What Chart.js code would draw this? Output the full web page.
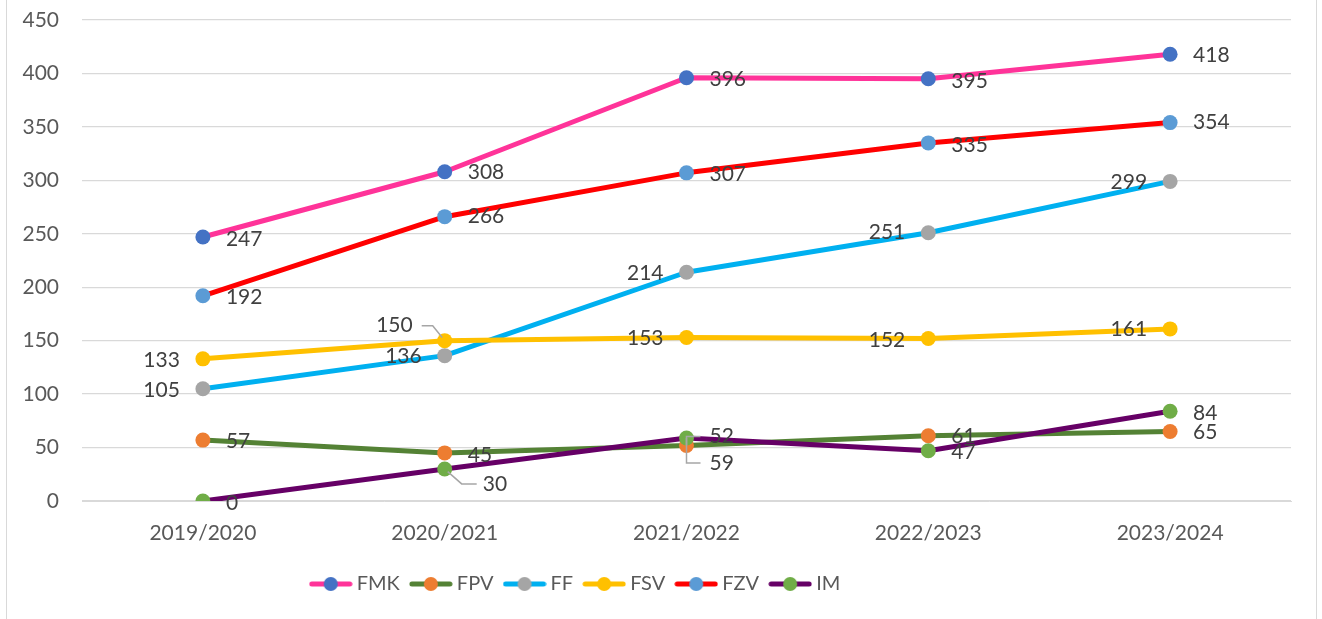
<!DOCTYPE html>
<html>
<head>
<meta charset="utf-8">
<script src="https://cdn.jsdelivr.net/npm/chart.js@4.4.1/dist/chart.umd.min.js"></script>
<style>
  html, body { margin: 0; padding: 0; background: #fff; overflow: hidden; }
  #frame { position: absolute; left: 6px; top: -4px; width: 1309px; height: 640px; border: 1px solid #d9d9d9; }
  #wrap { position: absolute; left: 0; top: 0; width: 1322px; height: 619px; }
</style>
</head>
<body>
<div id="frame"></div>
<div id="wrap"><canvas id="myChart" width="1322" height="619"></canvas></div>
<script>
// data
const years = ['2019/2020', '2020/2021', '2021/2022', '2022/2023', '2023/2024'];
const fmk = [247, 308, 396, 395, 418];
const fpv = [57, 45, 52, 61, 65];
const ff  = [105, 136, 214, 251, 299];
const fsv = [133, 150, 153, 152, 161];
const fzv = [192, 266, 307, 335, 354];
const im  = [0, 30, 59, 47, 84];
const yTicks = [0, 50, 100, 150, 200, 250, 300, 350, 400, 450];

// line colour / marker colour per series
const styles = {
  FMK: { line: '#FF3399', dot: '#4472C4' },
  FPV: { line: '#548235', dot: '#ED7D31' },
  FF:  { line: '#00B0F0', dot: '#A5A5A5' },
  FSV: { line: '#FFC000', dot: '#FFC000' },
  FZV: { line: '#FF0000', dot: '#5B9BD5' },
  IM:  { line: '#660066', dot: '#70AD47' }
};

// where each value label sits next to its point (r = right, l = left)
const R = (dy) => ({ side: 'r', dx: 0, dy: dy || 0 });
const L = (dy) => ({ side: 'l', dx: 0, dy: dy || 0 });
const labelSpots = {
  FMK: [R(2), R(0), R(2), R(2), R(1)],
  FPV: [R(1), R(2), { side: 'r', dx: 0, dy: -9, bracket: true }, R(0), R(1)],
  FF:  [L(1), L(1), L(1), L(0), L(1)],
  FSV: [L(1), { side: 'l', dx: -9, dy: -15, gap: 9, stub: 11 }, L(1), L(2), L(0)],
  FZV: [R(1), R(0), R(1), R(2), R(0)],
  IM:  [R(2), { side: 'r', dx: 15, dy: 15, gap: 6, stub: 15 }, { side: 'r', dx: 0, dy: 25, bracket: true }, R(1), R(2)]
};

const legendShift = -68;

function legendIcon(st) {
  const c = document.createElement('canvas');
  c.width = 44; c.height = 16;
  const g = c.getContext('2d');
  g.strokeStyle = st.line;
  g.lineWidth = 5;
  g.lineCap = 'round';
  g.beginPath(); g.moveTo(3, 8); g.lineTo(41, 8); g.stroke();
  g.fillStyle = st.dot;
  g.beginPath(); g.arc(22, 8, 7, 0, Math.PI * 2); g.fill();
  return c;
}

function makeSet(name, values, i) {
  const st = styles[name];
  return {
    label: name,
    data: values,
    borderColor: st.line,
    backgroundColor: st.dot,
    borderWidth: 5,
    borderCapStyle: 'round',
    borderJoinStyle: 'round',
    pointRadius: 7.5,
    pointHoverRadius: 7.5,
    pointBorderWidth: 0,
    pointBackgroundColor: st.dot,
    tension: 0,
    order: 10 - i
  };
}

const valueLabels = {
  id: 'valueLabels',
  afterDatasetsDraw(chart) {
    const ctx = chart.ctx;
    ctx.save();
    ctx.font = '21px Lato';
    ctx.textBaseline = 'middle';
    chart.data.datasets.forEach((ds, di) => {
      const meta = chart.getDatasetMeta(di);
      meta.data.forEach((pt, i) => {
        const spot = labelSpots[ds.label][i];
        const txt = String(ds.data[i]);
        let tx, ty = pt.y + spot.dy;
        if (spot.side === 'r') {
          tx = pt.x + 23 + spot.dx;
          ctx.textAlign = 'left';
        } else {
          tx = pt.x - 23 + spot.dx;
          ctx.textAlign = 'right';
        }
        // leader lines
        ctx.strokeStyle = '#a6a6a6';
        ctx.lineWidth = 1.5;
        if (spot.bracket) {
          ctx.beginPath();
          ctx.moveTo(tx - 9, ty);
          ctx.lineTo(pt.x, ty);
          ctx.lineTo(pt.x, pt.y);
          ctx.stroke();
        } else if (spot.stub) {
          const dir = spot.side === 'r' ? -1 : 1;
          const sx = tx + dir * spot.gap;
          const ex = sx + dir * spot.stub;
          const ang = Math.atan2(ty - pt.y, ex - pt.x);
          ctx.beginPath();
          ctx.moveTo(sx, ty);
          ctx.lineTo(ex, ty);
          ctx.lineTo(pt.x + Math.cos(ang) * 4, pt.y + Math.sin(ang) * 4);
          ctx.stroke();
        }
        ctx.fillStyle = '#404040';
        ctx.fillText(txt, tx, ty);
      });
    });
    ctx.restore();
  }
};

const moveLegend = {
  id: 'moveLegend',
  afterLayout(chart) {
    if (chart.legend) {
      chart.legend.left += legendShift;
      chart.legend.right += legendShift;
    }
  }
};

const names = ['FMK', 'FPV', 'FF', 'FSV', 'FZV', 'IM'];
const series = [fmk, fpv, ff, fsv, fzv, im];
const icons = names.map(n => legendIcon(styles[n]));

const ctx = document.getElementById('myChart').getContext('2d');
const myChart = new Chart(ctx, {
  type: 'line',
  data: {
    labels: years,
    datasets: names.map((n, i) => makeSet(n, series[i], i))
  },
  plugins: [valueLabels, moveLegend],
  options: {
    responsive: false,
    animation: false,
    events: [],
    layout: { padding: { left: 0, right: 31, top: 20, bottom: 15 } },
    scales: {
      x: {
        offset: true,
        grid: { display: false, drawTicks: false },
        border: { display: true, color: '#d9d9d9', width: 1 },
        ticks: { color: '#595959', font: { family: 'Lato', size: 21 }, padding: 20, maxRotation: 0 },
        afterFit(scale) { scale.height = 58; }
      },
      y: {
        min: 0,
        max: 450,
        afterBuildTicks(scale) { scale.ticks = yTicks.map(v => ({ value: v })); },
        grid: { color: '#d9d9d9', lineWidth: 1.3, drawTicks: true, tickLength: 23, tickColor: 'rgba(0,0,0,0)' },
        border: { display: false },
        ticks: { color: '#595959', font: { family: 'Lato', size: 21 }, padding: 0 },
        afterFit(scale) { scale.width = 82; }
      }
    },
    plugins: {
      tooltip: { enabled: false },
      legend: {
        position: 'bottom',
        labels: {
          usePointStyle: true,
          pointStyleWidth: 32,
          padding: 15,
          color: '#595959',
          font: { family: 'Lato', size: 20 },
          sort: (a, b) => a.datasetIndex - b.datasetIndex,
          generateLabels(chart) {
            const items = Chart.defaults.plugins.legend.labels.generateLabels(chart);
            items.forEach(it => { it.pointStyle = icons[it.datasetIndex]; });
            return items;
          }
        }
      }
    }
  }
});
</script>
</body>
</html>
